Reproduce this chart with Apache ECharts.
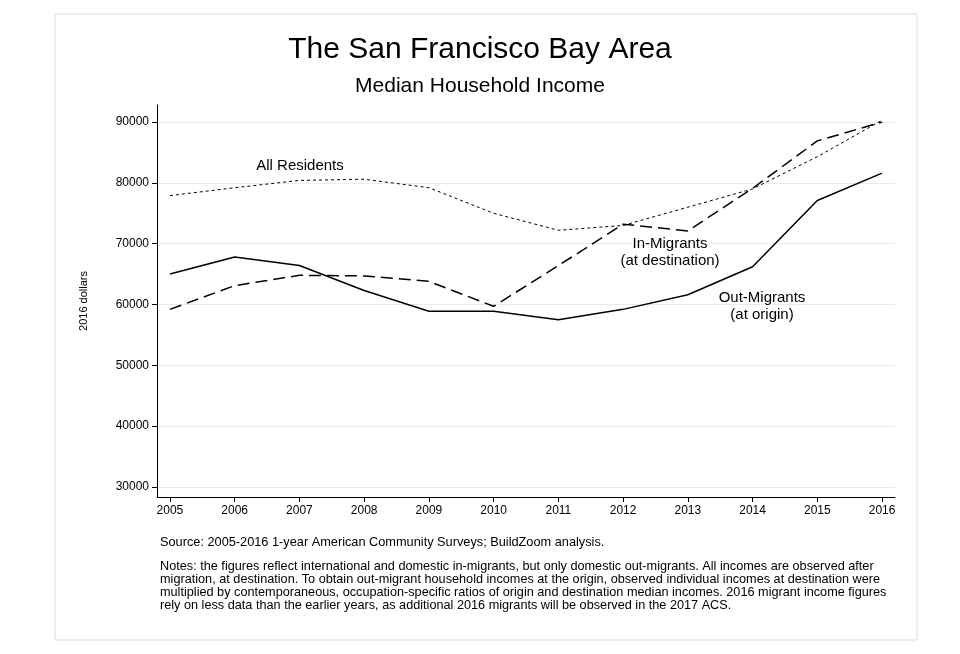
<!DOCTYPE html>
<html><head><meta charset="utf-8">
<script src="https://cdn.jsdelivr.net/npm/echarts@6/dist/echarts.min.js"></script>
<style>body{margin:0;background:#fff}#c{width:960px;height:654px}</style>
</head><body><div id="c"></div>
<script>
var years = [2005, 2006, 2007, 2008, 2009, 2010, 2011, 2012, 2013, 2014, 2015, 2016];
var allResidents = [77900, 79200, 80400, 80600, 79200, 75000, 72200, 73000, 76000, 79000, 84300, 90300];
var inMigrants = [59200, 63100, 64800, 64700, 63800, 59700, 66400, 73200, 72100, 79100, 86900, 90000];
var outMigrants = [65000, 67800, 66400, 62300, 58900, 58900, 57500, 59200, 61600, 66200, 77100, 81600];
var yTicks = [30000, 40000, 50000, 60000, 70000, 80000, 90000];

var myChart = echarts.init(document.getElementById('c'));
var ff = 'Liberation Sans, Arial, sans-serif';
function pairs(v) { return v.map(function (y, i) { return [years[i], y]; }); }

var noteText = 'Notes: the figures reflect international and domestic in-migrants, but only domestic out-migrants. All incomes are observed after\n' +
  'migration, at destination. To obtain out-migrant household incomes at the origin, observed individual incomes at destination were\n' +
  'multiplied by contemporaneous, occupation-specific ratios of origin and destination median incomes. 2016 migrant income figures\n' +
  'rely on less data than the earlier years, as additional 2016 migrants will be observed in the 2017 ACS.';

// label text sits above the grid lines, with a white halo like the original
function lbl(x, y, t) {
  return { type: 'text', x: x, y: y, z: 100, style: { text: t, font: '15px ' + ff, fill: '#000', align: 'center', lineHeight: 17, stroke: '#fff', lineWidth: 3 } };
}

myChart.setOption({
  animation: false,
  textStyle: { fontFamily: ff },
  grid: { left: 157, right: 65, top: 105, bottom: 157 },
  xAxis: {
    type: 'value', min: 2004.8, max: 2016.2,
    axisLine: { lineStyle: { color: '#000' } },
    axisTick: { customValues: years, length: 5, lineStyle: { color: '#000' } },
    axisLabel: { customValues: years, color: '#000', fontSize: 12, margin: 8, formatter: function (v) { return v; } },
    splitLine: { show: false }
  },
  yAxis: {
    type: 'value', min: 28350, max: 92800,
    name: '2016 dollars', nameLocation: 'middle', nameGap: 68,
    nameTextStyle: { color: '#000', fontSize: 11 },
    axisLine: { show: true, lineStyle: { color: '#000' } },
    axisTick: { show: true, customValues: yTicks, length: 5, lineStyle: { color: '#000' } },
    axisLabel: { customValues: yTicks, color: '#000', fontSize: 12, margin: 8, formatter: function (v) { return String(v); } },
    splitLine: { show: false }
  },
  graphic: [
    { type: 'rect', shape: { x: 55, y: 14, width: 862, height: 626 }, style: { fill: 'none', stroke: '#ddd', lineWidth: 1 } },
    { type: 'text', left: 'center', top: 35, style: { text: 'The San Francisco Bay Area', font: '30px ' + ff, fill: '#000' } },
    { type: 'text', left: 'center', top: 76, style: { text: 'Median Household Income', font: '21px ' + ff, fill: '#000' } },
    { type: 'text', left: 160, top: 536, style: { text: 'Source: 2005-2016 1-year American Community Surveys; BuildZoom analysis.', font: '12.75px ' + ff, fill: '#000' } },
    { type: 'text', left: 160, top: 560, style: { text: noteText, font: '12.7px ' + ff, fill: '#000', lineHeight: 13 } },
    lbl(300, 157, 'All Residents'),
    lbl(670, 235, 'In-Migrants\n(at destination)'),
    lbl(762, 289, 'Out-Migrants\n(at origin)')
  ],
  series: [
    {
      name: 'All Residents', type: 'line', data: pairs(allResidents), symbol: 'none',
      lineStyle: { color: '#000', width: 1, type: [3, 3] },
      markLine: {
        silent: true, symbol: 'none', label: { show: false },
        lineStyle: { color: '#e3ecf1', width: 1, type: 'solid' },
        data: yTicks.map(function (v) { return { yAxis: v }; }),
        z: 0
      }
    },
    { name: 'In-Migrants', type: 'line', data: pairs(inMigrants), symbol: 'none', lineStyle: { color: '#000', width: 1.5, type: [12, 6] } },
    { name: 'Out-Migrants', type: 'line', data: pairs(outMigrants), symbol: 'none', lineStyle: { color: '#000', width: 1.5 } }
  ]
});
</script></body></html>
